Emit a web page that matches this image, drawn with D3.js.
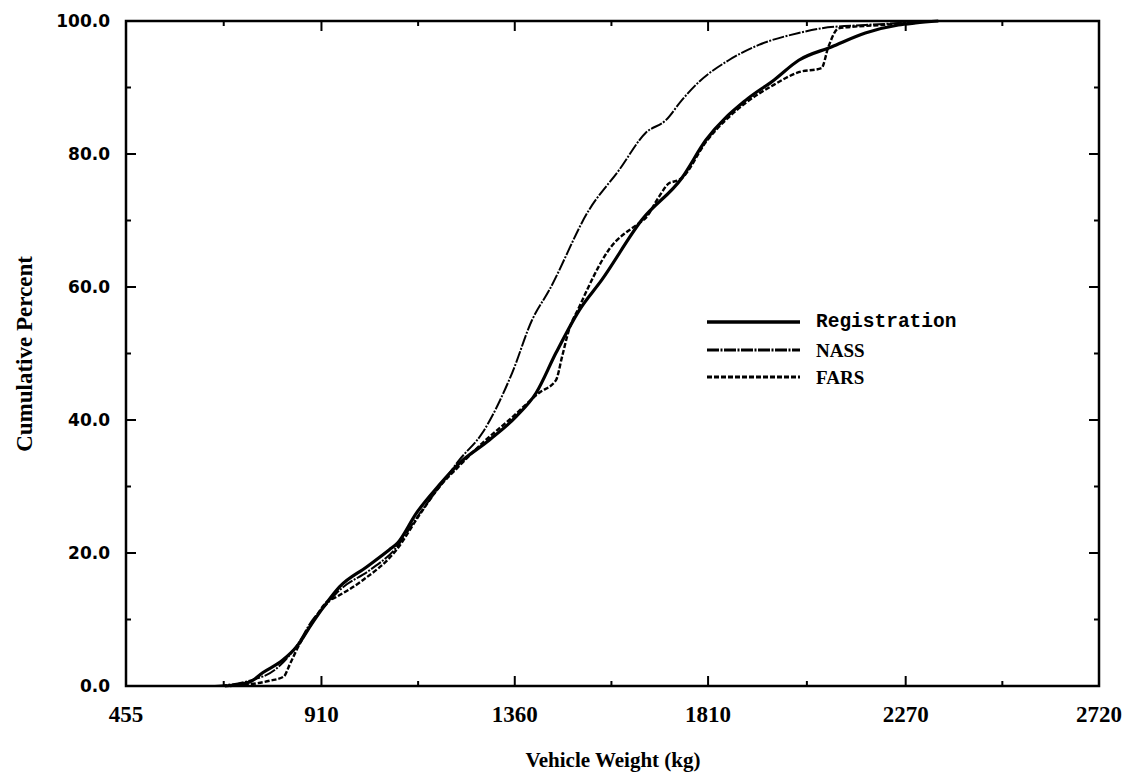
<!DOCTYPE html>
<html>
<head>
<meta charset="utf-8">
<script src="https://cdn.jsdelivr.net/npm/d3@7"></script>
<style>
  html, body { margin: 0; padding: 0; background: #fff; }
  svg { display: block; }
</style>
</head>
<body>
<svg id="chart" width="1122" height="776"></svg>
<script>
// ---- data ----
const xTicks = [455, 910, 1360, 1810, 2270, 2720];
const xMinorTicks = [682.5, 1135, 1585, 2040, 2495];
const yTicks = [0, 20, 40, 60, 80, 100];
const yMinorTicks = [10, 30, 50, 70, 90];

const regWeight = [685, 743, 773, 820, 852, 889, 922, 952, 1015, 1068, 1087, 1131, 1184, 1231, 1301, 1363, 1410, 1456, 1510, 1563, 1656, 1749, 1805, 1898, 1963, 2021, 2097, 2176, 2253, 2293, 2346];
const regPct    = [0, 0.6, 2.0, 3.9, 5.9, 9.5, 12.5, 14.9, 17.9, 20.5, 21.5, 26.0, 30.2, 33.5, 37.0, 40.5, 44.1, 50.1, 56.5, 61.1, 70.1, 76.4, 82.1, 88.1, 91.1, 94.1, 96.1, 98.2, 99.4, 99.7, 100];

const nassWeight = [662, 743, 801, 852, 889, 922, 952, 1022, 1080, 1138, 1184, 1231, 1284, 1354, 1400, 1440, 1533, 1603, 1665, 1712, 1749, 1788, 1858, 1928, 2021, 2074, 2176, 2253, 2300];
const nassPct    = [0, 0.8, 2.4, 6.0, 9.9, 12.3, 14.4, 17.4, 20.5, 25.9, 29.9, 34.0, 38.0, 47.1, 55.0, 59.5, 71.6, 77.6, 83.2, 85.1, 88.1, 90.8, 94.1, 96.4, 98.2, 98.9, 99.4, 99.7, 100];

const farsWeight = [697, 790, 822, 836, 852, 889, 922, 945, 1006, 1085, 1138, 1184, 1231, 1284, 1347, 1417, 1456, 1470, 1486, 1510, 1579, 1649, 1665, 1695, 1719, 1742, 1749, 1805, 1898, 1963, 2021, 2074, 2090, 2114, 2214, 2269, 2322];
const farsPct    = [0, 0.8, 1.4, 3.2, 5.4, 9.6, 12.6, 13.4, 15.9, 20.5, 25.7, 29.9, 33.1, 36.5, 40.0, 44.1, 46.0, 49.5, 53.5, 57.0, 65.6, 69.6, 70.4, 73.5, 75.6, 76.1, 76.4, 81.8, 87.7, 90.4, 92.3, 92.9, 96.1, 98.9, 99.4, 99.7, 100];

const seriesNames = ["Registration", "NASS", "FARS"];

// ---- layout ----
const svg = d3.select("#chart");
const pLeft = 126, pRight = 1099, pTop = 21, pBottom = 686;

const x = d3.scaleLinear().domain([455, 2720]).range([pLeft, pRight]);
const y = d3.scaleLinear().domain([0, 100]).range([pBottom, pTop]);

const serif = "'Liberation Serif', 'Times New Roman', serif";
const sans = "'DejaVu Sans', sans-serif";
const mono = "'Liberation Mono', 'Courier New', monospace";

// frame
svg.append("rect")
  .attr("x", pLeft).attr("y", pTop)
  .attr("width", pRight - pLeft).attr("height", pBottom - pTop)
  .attr("fill", "none").attr("stroke", "#000").attr("stroke-width", 2.5);

// ticks (inward on all four sides)
const tickG = svg.append("g").attr("stroke", "#000").attr("stroke-width", 2);
function xTickMarks(vals, len) {
  vals.forEach(v => {
    tickG.append("line").attr("x1", x(v)).attr("x2", x(v)).attr("y1", pBottom).attr("y2", pBottom - len);
    tickG.append("line").attr("x1", x(v)).attr("x2", x(v)).attr("y1", pTop).attr("y2", pTop + len);
  });
}
function yTickMarks(vals, len) {
  vals.forEach(v => {
    tickG.append("line").attr("y1", y(v)).attr("y2", y(v)).attr("x1", pLeft).attr("x2", pLeft + len);
    tickG.append("line").attr("y1", y(v)).attr("y2", y(v)).attr("x1", pRight).attr("x2", pRight - len);
  });
}
xTickMarks(xTicks.slice(1, -1), 10);
xTickMarks(xMinorTicks, 5);
yTickMarks(yTicks.slice(1, -1), 10);
yTickMarks(yMinorTicks, 5);

// tick labels
svg.append("g").selectAll("text").data(xTicks).join("text")
  .attr("x", d => x(d)).attr("y", 722)
  .attr("text-anchor", "middle")
  .attr("font-family", serif).attr("font-weight", "bold").attr("font-size", 23)
  .text(d => d);

svg.append("g").selectAll("text").data(yTicks).join("text")
  .attr("x", 110).attr("y", d => y(d))
  .attr("text-anchor", "end").attr("dominant-baseline", "central")
  .attr("font-family", sans).attr("font-weight", "bold").attr("font-size", 17)
  .text(d => d.toFixed(1));

// axis titles
svg.append("text")
  .attr("x", 613).attr("y", 767)
  .attr("text-anchor", "middle")
  .attr("font-family", serif).attr("font-weight", "bold").attr("font-size", 21)
  .text("Vehicle Weight (kg)");

svg.append("text")
  .attr("transform", "translate(24,354) rotate(-90)")
  .attr("text-anchor", "middle").attr("dominant-baseline", "central")
  .attr("font-family", serif).attr("font-weight", "bold").attr("font-size", 23)
  .text("Cumulative Percent");

// series
const styles = [
  { w: 3.2, lw: 3.6, dash: null },
  { w: 2.0, lw: 3.0, dash: "12,1.5,2,1.5" },
  { w: 2.4, lw: 3.0, dash: "5,2" }
];
const data = [
  d3.zip(regWeight, regPct),
  d3.zip(nassWeight, nassPct),
  d3.zip(farsWeight, farsPct)
];
const line = d3.line().x(d => x(d[0])).y(d => y(d[1])).curve(d3.curveMonotoneX);

const plot = svg.append("g");
data.forEach((pts, i) => {
  const p = plot.append("path").datum(pts)
    .attr("d", line)
    .attr("fill", "none").attr("stroke", "#000")
    .attr("stroke-width", styles[i].w)
    .attr("stroke-linejoin", "round");
  if (styles[i].dash) p.attr("stroke-dasharray", styles[i].dash);
});

// legend
const legendY = [322, 350, 377];
const legendFonts = [
  { f: mono, s: 19.5 },
  { f: serif, s: 19 },
  { f: serif, s: 19 }
];
seriesNames.forEach((name, i) => {
  const l = svg.append("line")
    .attr("x1", 707).attr("x2", 800)
    .attr("y1", legendY[i]).attr("y2", legendY[i])
    .attr("stroke", "#000").attr("stroke-width", styles[i].lw);
  if (styles[i].dash) l.attr("stroke-dasharray", styles[i].dash);
  svg.append("text")
    .attr("x", 816).attr("y", legendY[i])
    .attr("dominant-baseline", "central")
    .attr("font-family", legendFonts[i].f).attr("font-weight", "bold")
    .attr("font-size", legendFonts[i].s)
    .text(name);
});
</script>
</body>
</html>
